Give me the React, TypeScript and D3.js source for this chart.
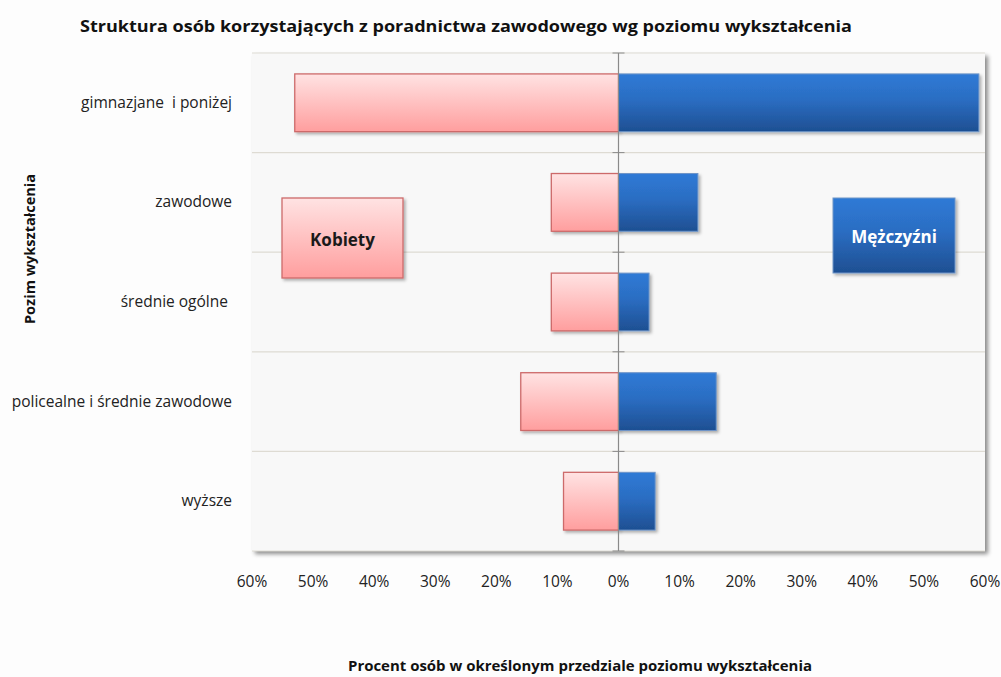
import React from "react";
import * as d3 from "d3";

// education levels (top to bottom)
const categories = [
  "gimnazjane  i poniżej",
  "zawodowe",
  "średnie ogólne ",
  "policealne i średnie zawodowe",
  "wyższe",
];
// share of women / men in each level, %
const women = [53, 11, 11, 16, 9];
const men = [59, 13, 5, 16, 6];
const tickValues = [-60, -50, -40, -30, -20, -10, 0, 10, 20, 30, 40, 50, 60];

const W = 1001;
const H = 677;
const plot = { left: 252, right: 985, top: 53, bottom: 551 };
const FONT = "'Open Sans', sans-serif";

const App = () => {
  const x = d3.scaleLinear().domain([-60, 60]).range([plot.left, plot.right]);
  const y = d3
    .scaleBand()
    .domain(categories)
    .range([plot.top, plot.bottom])
    .paddingInner(0.42)
    .paddingOuter(0.21);
  const band = d3.scaleBand().domain(categories).range([plot.top, plot.bottom]);

  const x0 = x(0);

  return (
    <svg
      width={W}
      height={H}
      style={{ position: "absolute", left: 0, top: 0, display: "block" }}
      fontFamily={FONT}
    >
      <defs>
        <linearGradient id="pink" x1="0" y1="0" x2="0" y2="1">
          <stop offset="0%" stopColor="#ffe3e3" />
          <stop offset="100%" stopColor="#ff9e9e" />
        </linearGradient>
        <linearGradient id="blue" x1="0" y1="0" x2="0" y2="1">
          <stop offset="0%" stopColor="#2f7ad6" />
          <stop offset="45%" stopColor="#2b6dc2" />
          <stop offset="100%" stopColor="#1e4f92" />
        </linearGradient>
        <filter id="shadow" x="-10%" y="-10%" width="130%" height="140%">
          <feDropShadow dx="2" dy="2" stdDeviation="1.5" floodColor="#000" floodOpacity="0.3" />
        </filter>
        <filter id="plotShadow" x="-5%" y="-5%" width="110%" height="110%">
          <feDropShadow dx="3" dy="3" stdDeviation="2" floodColor="#000" floodOpacity="0.45" />
        </filter>
      </defs>

      <rect x={0} y={0} width={W} height={H} fill="#fdfdfd" />

      <text
        x={466}
        y={32}
        textAnchor="middle"
        fontSize={16}
        fontWeight="bold"
        fill="#111"
        textLength={772}
        lengthAdjust="spacingAndGlyphs"
      >
        Struktura osób korzystających z poradnictwa zawodowego wg poziomu wykształcenia
      </text>

      {/* plot area */}
      <rect
        x={plot.left}
        y={plot.top}
        width={plot.right - plot.left}
        height={plot.bottom - plot.top}
        fill="#f8f8f8"
        filter="url(#plotShadow)"
      />

      {/* horizontal grid */}
      {[...categories.map((c) => band(c)!), plot.bottom].map((gy, i) => (
        <line
          key={"g" + i}
          x1={plot.left}
          x2={plot.right}
          y1={gy}
          y2={gy}
          stroke="#dedbd3"
          strokeWidth={1.2}
        />
      ))}

      {/* women bars */}
      {categories.map((c, i) => (
        <rect
          key={"w" + i}
          x={x(-women[i])}
          y={y(c)!}
          width={x0 - x(-women[i])}
          height={y.bandwidth()}
          fill="url(#pink)"
          stroke="#cd6a6a"
          strokeWidth={1.3}
          filter="url(#shadow)"
        />
      ))}

      {/* men bars */}
      {categories.map((c, i) => (
        <rect
          key={"m" + i}
          x={x0}
          y={y(c)!}
          width={x(men[i]) - x0}
          height={y.bandwidth()}
          fill="url(#blue)"
          stroke="#6e95c8"
          strokeWidth={1}
          filter="url(#shadow)"
        />
      ))}

      {/* zero axis with ticks */}
      <line x1={x0} x2={x0} y1={plot.top} y2={plot.bottom} stroke="#8a8a8a" strokeWidth={1.2} />
      {[...categories.map((c) => band(c)!), plot.bottom].map((gy, i) => (
        <line key={"t" + i} x1={x0 - 6} x2={x0 + 6} y1={gy} y2={gy} stroke="#8a8a8a" />
      ))}

      {/* legend boxes */}
      <rect x={282} y={198} width={121} height={80} fill="url(#pink)" stroke="#cd6a6a" strokeWidth={1.3} filter="url(#shadow)" />
      <text x={342.5} y={246} textAnchor="middle" fontSize={17} fontWeight="bold" fill="#1a1a1a">
        Kobiety
      </text>
      <rect x={833} y={198} width={122} height={75} fill="url(#blue)" stroke="#6e95c8" filter="url(#shadow)" />
      <text x={894} y={243} textAnchor="middle" fontSize={17} fontWeight="bold" fill="#ffffff">
        Mężczyźni
      </text>

      {/* category labels */}
      {categories.map((c) => (
        <text
          key={c}
          x={232}
          y={band(c)! + band.bandwidth() / 2 + 5}
          textAnchor="end"
          fontSize={15.5}
          fill="#222"
          style={{ whiteSpace: "pre" }}
        >
          {c}
        </text>
      ))}

      {/* x tick labels */}
      {tickValues.map((t) => (
        <text key={t} x={x(t)} y={587} textAnchor="middle" fontSize={15.5} fill="#222">
          {Math.abs(t) + "%"}
        </text>
      ))}

      <text x={580} y={671} textAnchor="middle" fontSize={15} fontWeight="bold" fill="#111" textLength={464} lengthAdjust="spacingAndGlyphs">
        Procent osób w określonym przedziale poziomu wykształcenia
      </text>

      <text
        transform="translate(35,249) rotate(-90)"
        textAnchor="middle"
        fontSize={14}
        fontWeight="bold"
        fill="#111"
        textLength={150}
        lengthAdjust="spacingAndGlyphs"
      >
        Pozim wykształcenia
      </text>
    </svg>
  );
};

export default App;
